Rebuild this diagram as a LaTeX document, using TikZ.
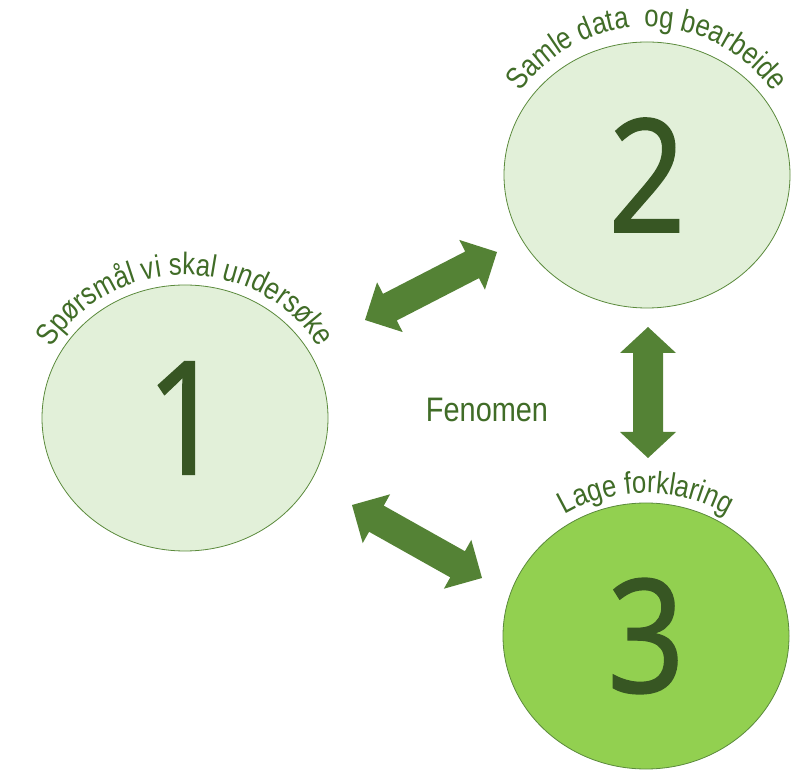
\documentclass[tikz,border=0pt]{standalone}
\usepackage{fontspec}
\setmainfont{Liberation Sans}[FakeStretch=0.85]
\newfontfamily\narrowfont{Liberation Sans}[FakeStretch=0.85]
\newfontfamily\lblnarrow{Liberation Sans}[FakeStretch=0.83]
\newfontfamily\digitfont{Noto Sans}[FakeStretch=0.86,FakeBold=0.8]
\usetikzlibrary{shapes.geometric,calc,decorations.text}
\definecolor{lightfill}{HTML}{E2F0D9}
\definecolor{rimgreen}{HTML}{5B8A3C}
\definecolor{brightfill}{HTML}{92D050}
\definecolor{digitgreen}{HTML}{375623}
\definecolor{arrowgreen}{HTML}{548235}
\definecolor{labelgreen}{HTML}{406C27}
\newcommand\lblfont{\lblnarrow\fontsize{31}{31}\selectfont\color{labelgreen}}
\newcommand\blockarrow[3]{%
  \fill[arrowgreen] (#1) -- ($(#1)!#3!(#2)!28pt!90:(#2)$) -- ($(#1)!#3!(#2)!15pt!90:(#2)$)
    -- ($(#2)!#3!(#1)!15pt!-90:(#1)$) -- ($(#2)!#3!(#1)!28pt!-90:(#1)$) -- (#2)
    -- ($(#2)!#3!(#1)!28pt!90:(#1)$) -- ($(#2)!#3!(#1)!15pt!90:(#1)$)
    -- ($(#1)!#3!(#2)!15pt!-90:(#2)$) -- ($(#1)!#3!(#2)!28pt!-90:(#2)$) -- cycle;}
\tikzset{
  stage/.style={ellipse, draw=rimgreen, line width=0.8pt, minimum width=286pt,
    minimum height=266pt, inner sep=0pt, text=digitgreen,
    font=\digitfont\fontsize{158}{158}\selectfont},
  lightstage/.style={stage, fill=lightfill},
  brightstage/.style={stage, fill=brightfill},
  curvelabel/.style={decorate, decoration={text along path, text align=center, text={#1}}}
}
\begin{document}
\begin{tikzpicture}[x=1pt,y=1pt]
\useasboundingbox (0,0) rectangle (800,771);
\node[lightstage] (c1) at (185,353) {1};
\node[lightstage] (c2) at (647,596) {2};
\node[brightstage] (c3) at (646,135) {3};

\path[curvelabel={|\lblfont|Spørsmål vi skal undersøke}]
  ($(c1.center)+(172:153pt and 143pt)$) arc[start angle=172, end angle=8, x radius=153pt, y radius=143pt];
\path[curvelabel={|\lblfont|Samle data{\ }{\ }og bearbeide}]
  ($(c2.center)+(172:152pt and 148pt)$) arc[start angle=172, end angle=8, x radius=152pt, y radius=148pt];
\path[curvelabel={|\lblfont|Lage forklaring}]
  ($(c3.center)+(172:153pt and 143pt)$) arc[start angle=172, end angle=8, x radius=153pt, y radius=143pt];

\node[anchor=base, text=labelgreen, font=\narrowfont\fontsize{34}{34}\selectfont] (fen) at (487,349) {Fenomen};

\coordinate (a1s) at (365,451);
\coordinate (a1e) at (497,519);
\coordinate (a2s) at (352,266);
\coordinate (a2e) at (482,193);
\coordinate (a3s) at (648,444);
\coordinate (a3e) at (648,313);
\blockarrow{a1s}{a1e}{28pt}
\blockarrow{a2s}{a2e}{28pt}
\blockarrow{a3s}{a3e}{26pt}
\end{tikzpicture}
\end{document}
